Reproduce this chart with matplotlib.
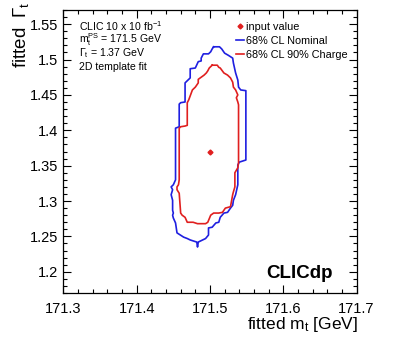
import matplotlib
matplotlib.use("Agg")
import matplotlib.pyplot as plt
from matplotlib.ticker import MultipleLocator, FormatStrFormatter
from matplotlib.lines import Line2D

plt.rcParams['font.family'] = ['Liberation Sans', 'DejaVu Sans']
plt.rcParams['mathtext.fontset'] = 'custom'
plt.rcParams['mathtext.rm'] = 'Liberation Sans'
plt.rcParams['mathtext.it'] = 'Liberation Sans'

# Input value
input_mt = [171.5]
input_gt = [1.37]

# 68% CL contour, nominal (blue)
nominal_mt = [171.505, 171.513, 171.516, 171.520, 171.525, 171.531, 171.532, 171.535, 171.538,
              171.539, 171.542, 171.549, 171.549, 171.540, 171.538, 171.538, 171.535, 171.532,
              171.531, 171.528, 171.524, 171.519, 171.514, 171.512, 171.508, 171.503, 171.498,
              171.498, 171.494, 171.490, 171.484, 171.483, 171.482, 171.473, 171.469, 171.464,
              171.455, 171.453, 171.450, 171.449, 171.450, 171.449, 171.449, 171.447, 171.449,
              171.447, 171.450, 171.453, 171.453, 171.458, 171.458, 171.460, 171.466, 171.466,
              171.473, 171.473, 171.480, 171.484, 171.488, 171.488, 171.491, 171.498, 171.501,
              171.503, 171.505]
nominal_gt = [1.518, 1.518, 1.515, 1.509, 1.506, 1.502, 1.495, 1.481, 1.471,
              1.461, 1.457, 1.456, 1.358, 1.355, 1.351, 1.323, 1.309, 1.301,
              1.294, 1.290, 1.284, 1.283, 1.277, 1.270, 1.269, 1.263, 1.262,
              1.252, 1.247, 1.245, 1.242, 1.235, 1.242, 1.245, 1.247, 1.249,
              1.255, 1.269, 1.276, 1.280, 1.283, 1.287, 1.301, 1.309, 1.316,
              1.320, 1.323, 1.330, 1.403, 1.405, 1.437, 1.439, 1.440, 1.467,
              1.474, 1.487, 1.488, 1.497, 1.498, 1.502, 1.508, 1.508, 1.511,
              1.515, 1.518]

# 68% CL contour, 90% charge (red)
charge_mt = [171.503, 171.510, 171.512, 171.514, 171.519, 171.524, 171.528, 171.531, 171.532,
             171.535, 171.538, 171.536, 171.538, 171.539, 171.539, 171.538, 171.534, 171.534,
             171.532, 171.531, 171.528, 171.521, 171.517, 171.512, 171.505, 171.501, 171.497,
             171.494, 171.483, 171.477, 171.469, 171.466, 171.462, 171.460, 171.458, 171.455,
             171.455, 171.457, 171.458, 171.458, 171.460, 171.466, 171.469, 171.469, 171.471,
             171.476, 171.480, 171.484, 171.484, 171.488, 171.492, 171.495, 171.497, 171.499,
             171.503]
charge_gt = [1.492, 1.492, 1.489, 1.488, 1.481, 1.478, 1.474, 1.468, 1.461,
             1.457, 1.450, 1.446, 1.440, 1.436, 1.354, 1.347, 1.340, 1.320,
             1.313, 1.309, 1.292, 1.290, 1.284, 1.283, 1.283, 1.280, 1.270,
             1.268, 1.268, 1.270, 1.270, 1.277, 1.280, 1.283, 1.311, 1.316,
             1.320, 1.323, 1.330, 1.403, 1.405, 1.406, 1.407, 1.439, 1.443,
             1.457, 1.461, 1.467, 1.472, 1.475, 1.478, 1.481, 1.484, 1.488,
             1.492]

x_ticks = [171.3, 171.4, 171.5, 171.6, 171.7]
y_ticks = [1.2, 1.25, 1.3, 1.35, 1.4, 1.45, 1.5, 1.55]

fig = plt.figure(figsize=(3.99, 3.38), dpi=100)
ax = fig.add_axes([0.159, 0.1331, 0.7345, 0.8373])

blue = '#1f1fe0'
red = '#e01f1f'
ax.plot(nominal_mt, nominal_gt, color=blue, lw=1.2)
ax.plot(charge_mt, charge_gt, color=red, lw=1.2)
ax.plot(input_mt, input_gt, marker='D', color=red, ms=2.5, ls='none')

ax.set_xlim(171.3, 171.7)
ax.set_ylim(1.17, 1.57)
ax.set_xticks(x_ticks)
ax.set_yticks(y_ticks)
ax.xaxis.set_minor_locator(MultipleLocator(0.02))
ax.yaxis.set_minor_locator(MultipleLocator(0.01))
ax.xaxis.set_major_formatter(FormatStrFormatter('%g'))
ax.yaxis.set_major_formatter(FormatStrFormatter('%g'))
ax.tick_params(which='both', direction='in', top=True, right=True, labelsize=10.5, width=0.8)
ax.tick_params(which='major', length=6)
ax.tick_params(which='minor', length=3)
ax.tick_params(axis='x', pad=6.5)
for s in ax.spines.values():
    s.set_linewidth(0.9)

ax.set_xlabel(r'fitted m$_{\mathregular{t}}$ [GeV]', fontsize=12.5, loc='right', va='top')
ax.xaxis.set_label_coords(1.005, -0.078)
ax.set_ylabel(r'fitted $\;\Gamma_{\mathregular{t}}$', fontsize=13.5, loc='top')
ax.yaxis.set_label_coords(-0.112, 1.03)

txt = dict(transform=ax.transAxes, fontsize=7.6, va='center', ha='left')
ax.text(0.053, 0.944, r'CLIC 10 x 10 fb$^{\mathregular{-1}}$', **txt)
ax.text(0.053, 0.895, r'm$_{\mathregular{t}}^{\mathregular{PS}}$ = 171.5 GeV', **txt)
ax.text(0.053, 0.846, r'$\Gamma_{\mathregular{t}}$ = 1.37 GeV', **txt)
ax.text(0.053, 0.799, '2D template fit', **txt)

ax.text(0.92, 0.068, 'CLICdp', transform=ax.transAxes, fontsize=13.5,
        fontweight='bold', ha='right', va='center')

handles = [Line2D([], [], marker='D', color=red, ms=2.5, ls='none'),
           Line2D([], [], color=blue, lw=1.2),
           Line2D([], [], color=red, lw=1.2)]
labels = ['input value', '68% CL Nominal', '68% CL 90% Charge']
ax.legend(handles, labels, loc='upper left', bbox_to_anchor=(0.575, 0.972),
          frameon=False, fontsize=7.8, handlelength=0.7, handletextpad=0.2,
          labelspacing=0.35, borderaxespad=0.0)

fig.savefig('out.png', dpi=100)
